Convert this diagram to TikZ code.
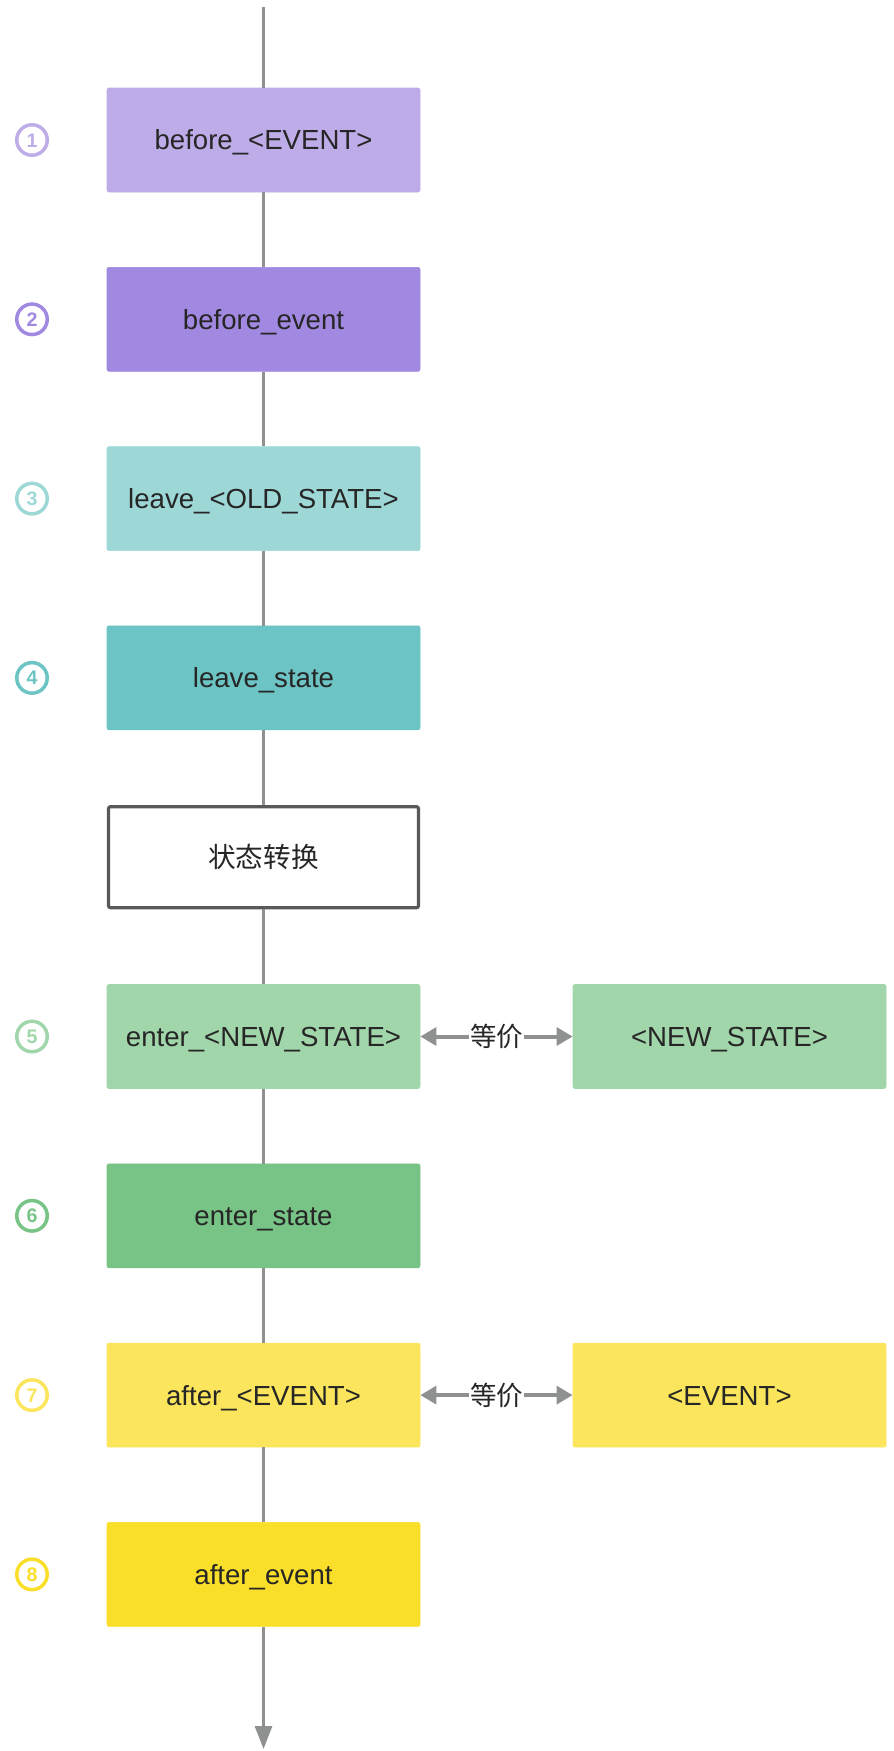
\documentclass[tikz,border=0pt]{standalone}
\usepackage{fontspec}
\setmainfont{Liberation Sans}
\newfontfamily\cjk{Noto Sans CJK SC}
\usetikzlibrary{arrows.meta}
\definecolor{cA}{HTML}{BEACE8}
\definecolor{cB}{HTML}{A188E0}
\definecolor{cC}{HTML}{9DD8D7}
\definecolor{cD}{HTML}{6DC4C4}
\definecolor{cE}{HTML}{A1D5AA}
\definecolor{cF}{HTML}{78C487}
\definecolor{cG}{HTML}{FBE55C}
\definecolor{cH}{HTML}{F9DE2A}
\definecolor{flowline}{HTML}{8E918F}
\definecolor{txt}{HTML}{262626}
\definecolor{stateborder}{HTML}{595959}
\tikzset{
  box/.style={rectangle, rounded corners=1pt, minimum width=156.5pt, minimum height=52pt,
    inner sep=0pt, text=txt, text height=9.9pt, text depth=0pt, font=\fontsize{13.8}{16}\selectfont},
  cbox/.style={box, fill=#1, draw=#1, line width=0.3pt},
  statebox/.style={box, fill=white, draw=stateborder, line width=1.6pt, minimum width=155pt, minimum height=50.5pt},
  numc/.style={circle, draw=#1, line width=1.75pt, minimum size=15.25pt, inner sep=0pt,
    text=#1, text height=7pt, text depth=0pt, font=\fontsize{9.8}{12}\selectfont\bfseries},
  flow/.style={draw=flowline, line width=1.5pt},
  eqarrow/.style={draw=flowline, line width=2pt, {Triangle[width=8.8pt,length=8pt]}-{Triangle[width=8.8pt,length=8pt]}},
  eqlabel/.style={fill=white, inner sep=0.5pt, text=txt, font=\fontsize{13.25}{16}\selectfont\cjk}
}
\begin{document}
\begin{tikzpicture}[x=0.5pt,y=-0.5pt]
\useasboundingbox (0,0) rectangle (894,1751);
\coordinate (top) at (263.5,7);
\coordinate (bottom) at (263.5,1749);
\node[cbox=cA] (b1) at (263.5,140) {before\_<EVENT>};
\node[cbox=cB] (b2) at (263.5,319.3) {before\_event};
\node[cbox=cC] (b3) at (263.5,498.6) {leave\_<OLD\_STATE>};
\node[cbox=cD] (b4) at (263.5,677.9) {leave\_state};
\node[statebox] (s) at (263.5,857.2) {\cjk 状态转换};
\node[cbox=cE] (b5) at (263.5,1036.5) {enter\_<NEW\_STATE>};
\node[cbox=cF] (b6) at (263.5,1215.8) {enter\_state};
\node[cbox=cG] (b7) at (263.5,1395.1) {after\_<EVENT>};
\node[cbox=cH] (b8) at (263.5,1574.4) {after\_event};
\node[cbox=cE] (r5) at (729.5,1036.5) {<NEW\_STATE>};
\node[cbox=cG] (r7) at (729.5,1395.1) {<EVENT>};
\node[numc=cA] (n1) at (32,140) {1};
\node[numc=cB] (n2) at (32,319.3) {2};
\node[numc=cC] (n3) at (32,498.6) {3};
\node[numc=cD] (n4) at (32,677.9) {4};
\node[numc=cE] (n5) at (32,1036.5) {5};
\node[numc=cF] (n6) at (32,1215.8) {6};
\node[numc=cG] (n7) at (32,1395.1) {7};
\node[numc=cH] (n8) at (32,1574.4) {8};
\draw[flow] (top) -- (b1);
\draw[flow] (b1) -- (b2);
\draw[flow] (b2) -- (b3);
\draw[flow] (b3) -- (b4);
\draw[flow] (b4) -- (s);
\draw[flow] (s) -- (b5);
\draw[flow] (b5) -- (b6);
\draw[flow] (b6) -- (b7);
\draw[flow] (b7) -- (b8);
\draw[flow, -{Triangle[width=8.5pt,length=11.5pt]}] (b8) -- (bottom);
\draw[eqarrow] (b5) -- (r5) node[midway, eqlabel] (e5) {等价};
\draw[eqarrow] (b7) -- (r7) node[midway, eqlabel] (e7) {等价};
\end{tikzpicture}
\end{document}
